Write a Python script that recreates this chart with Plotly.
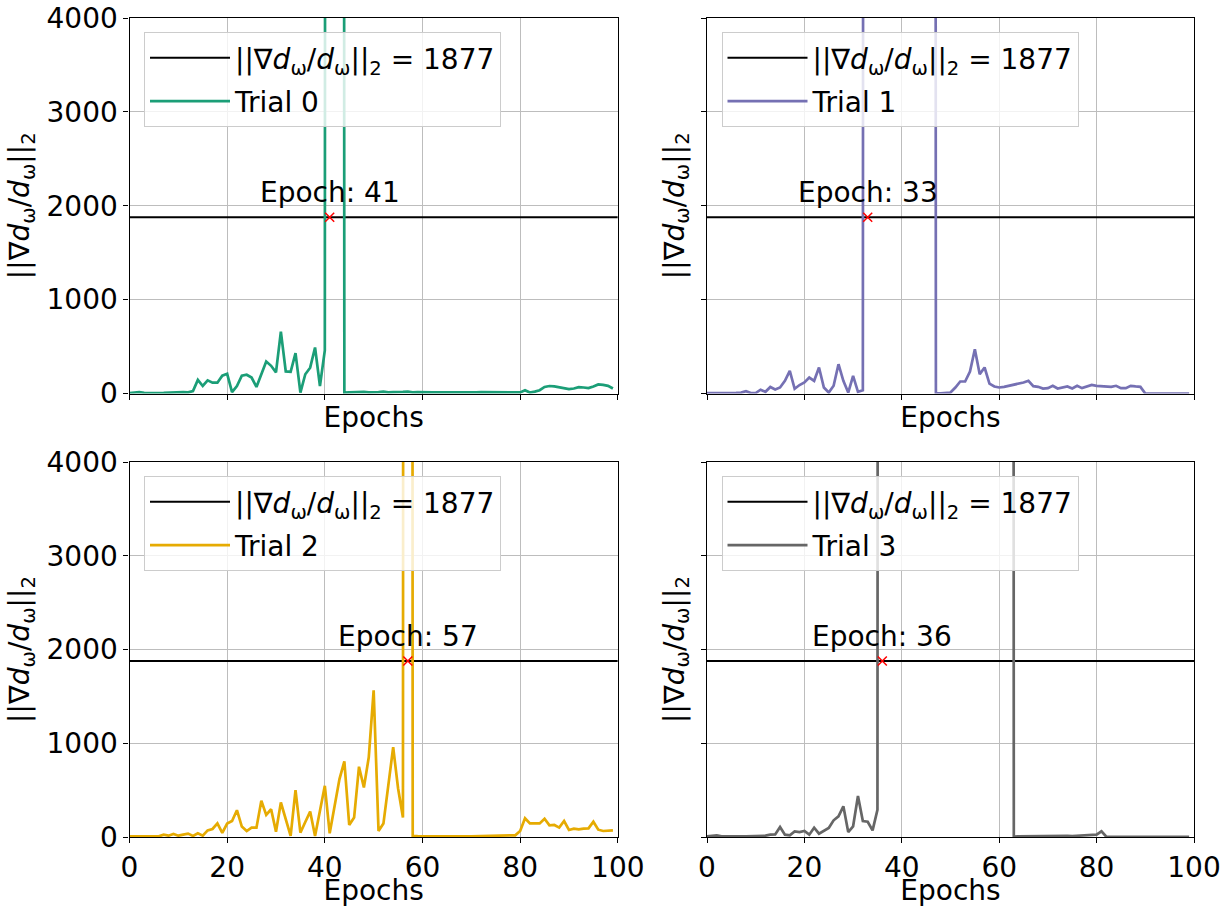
import plotly.graph_objects as go

# ---------------- data ----------------
epochs = list(range(100))
threshold = 1877
trial_names = ["Trial 0", "Trial 1", "Trial 2", "Trial 3"]
trial_colors = ["#1b9e77", "#7570b3", "#e6ab02", "#666666"]
crossing_epochs = [41, 33, 57, 36]

x_ticks = [0, 20, 40, 60, 80, 100]
y_ticks = [0, 1000, 2000, 3000, 4000]

trial0 = [5, 12, 15, 8, 5, 5, 5, 6, 8, 10,
          18, 15, 12, 25, 145, 80, 140, 115, 115, 190,
          210, 15, 80, 190, 200, 170, 70, 200, 340, 295,
          225, 660, 235, 230, 430, 10, 205, 275, 490, 80,
          460, 85000, 120000, 95000, 10, 12, 15, 14, 18, 13,
          11, 14, 20, 12, 15, 13, 17, 20, 12, 15,
          12, 14, 11, 13, 12, 15, 14, 12, 16, 13,
          11, 12, 14, 13, 15, 12, 13, 12, 14, 13,
          12, 35, 10, 20, 35, 70, 80, 75, 65, 57,
          46, 53, 67, 64, 57, 75, 96, 92, 82, 53]

trial1 = [5, 4, 5, 6, 5, 4, 6, 10, 25, 5,
          5, 40, 18, 70, 43, 64, 135, 240, 50, 90,
          117, 170, 135, 277, 64, 10, 82, 312, 135, 10,
          188, 18, 35, 90000, 110000, 95000, 130000, 100000, 85000, 120000,
          105000, 98000, 115000, 90000, 125000, 100000, 95000, 2, 2, 3,
          10, 64, 128, 128, 234, 472, 206, 277, 106, 75,
          64, 71, 82, 100, 110, 117, 135, 78, 71, 53,
          57, 82, 53, 64, 75, 53, 82, 57, 71, 92,
          82, 78, 78, 71, 82, 57, 57, 82, 75, 71,
          0, 0, 0, 0, 0, 0, 0, 0, 0, 0]

trial2 = [8, 7, 6, 6, 7, 6, 7, 25, 14, 32,
          14, 25, 36, 11, 40, 14, 71, 86, 146, 43,
          143, 171, 286, 111, 64, 100, 100, 386, 236, 296,
          57, 368, 190, 11, 500, 46, 160, 271, 11, 280,
          546, 39, 328, 618, 807, 128, 207, 750, 528, 850,
          1564, 64, 143, 550, 957, 520, 207, 110000, 11, 9,
          8, 9, 8, 7, 8, 9, 8, 7, 8, 7,
          8, 9, 8, 9, 10, 9, 10, 11, 12, 18,
          64, 200, 145, 142, 145, 195, 124, 128, 100, 170,
          75, 89, 82, 89, 92, 163, 78, 64, 64, 71]

trial3 = [8, 12, 18, 8, 6, 5, 6, 7, 8, 10,
          12, 10, 14, 25, 28, 107, 25, 18, 60, 53,
          64, 25, 100, 36, 64, 96, 178, 220, 327, 53,
          114, 437, 170, 163, 71, 291, 95000, 120000, 105000, 90000,
          115000, 100000, 130000, 98000, 110000, 92000, 125000, 100000, 105000, 95000,
          118000, 102000, 99000, 112000, 96000, 108000, 121000, 94000, 103000, 117000,
          100000, 97000, 111000, 5, 8, 9, 10, 11, 10, 12,
          11, 10, 11, 12, 11, 10, 12, 13, 14, 15,
          25, 60, 3, 2, 2, 2, 2, 2, 2, 2,
          2, 2, 2, 2, 2, 2, 2, 2, 2, 2]

trials = [trial0, trial1, trial2, trial3]

# ---------------- layout geometry ----------------
W, H = 1232, 907
col_px = [(129.5, 617.8), (707.0, 1194.0)]
row_px = [(18.0, 393.5), (462.0, 837.0)]

FONT = "DejaVu Sans"
FS = 28
norm_label = "||∇<i>d</i><sub>ω</sub>/<i>d</i><sub>ω</sub>||<sub>2</sub>"

fig = go.Figure()

for i in range(4):
    r, c = divmod(i, 2)
    ax = "" if i == 0 else str(i + 1)
    xref, yref = "x" + ax, "y" + ax
    leg = "legend" + ax

    fig.add_trace(go.Scatter(
        x=[x_ticks[0], x_ticks[-1]], y=[threshold, threshold],
        mode="lines", line=dict(color="black", width=2),
        name=norm_label + " = " + str(threshold),
        xaxis=xref, yaxis=yref, legend=leg, legendgroup="thr" + ax,
    ))
    fig.add_trace(go.Scatter(
        x=epochs, y=trials[i], mode="lines",
        line=dict(color=trial_colors[i], width=2.7),
        name=trial_names[i],
        xaxis=xref, yaxis=yref, legend=leg, legendgroup="tr" + ax,
    ))
    fig.add_trace(go.Scatter(
        x=[crossing_epochs[i]], y=[threshold], mode="markers",
        marker=dict(symbol="x-thin", size=9, line=dict(color="red", width=1.5)),
        showlegend=False, xaxis=xref, yaxis=yref,
    ))
    fig.add_annotation(
        x=crossing_epochs[i], y=threshold, xref=xref, yref=yref,
        text="Epoch: " + str(crossing_epochs[i]), showarrow=False,
        xanchor="center", yanchor="bottom", yshift=6,
        font=dict(family=FONT, size=FS, color="black"),
    )

    x0, x1 = col_px[c]
    y0, y1 = row_px[r]
    axis_common = dict(
        showline=True, linecolor="black", linewidth=1.2, mirror=True,
        ticks="outside", ticklen=5, tickwidth=1.2, tickcolor="black",
        showgrid=True, gridcolor="#bdbdbd", gridwidth=1.1,
        zeroline=False, automargin=False,
        tickfont=dict(family=FONT, size=FS, color="black"),
    )
    fig.layout["xaxis" + ax] = dict(
        axis_common, domain=[x0 / W, x1 / W], anchor=yref,
        range=[x_ticks[0], x_ticks[-1]], tickvals=x_ticks,
        showticklabels=(r == 1),
        title=dict(text="Epochs", font=dict(family=FONT, size=FS, color="black"),
                   standoff=8 if r == 0 else 10),
    )
    fig.layout["yaxis" + ax] = dict(
        axis_common, domain=[1 - y1 / H, 1 - y0 / H], anchor=xref,
        range=[y_ticks[0], y_ticks[-1]], tickvals=y_ticks,
        showticklabels=(c == 0),
        title=dict(text=norm_label, font=dict(family=FONT, size=FS, color="black"),
                   standoff=8),
    )
    fig.layout[leg] = dict(
        x=(x0 + 14.5) / W, y=1 - (y0 + 14) / H, xanchor="left", yanchor="top",
        xref="paper", yref="paper",
        bgcolor="rgba(255,255,255,0.8)", bordercolor="#cccccc", borderwidth=1,
        font=dict(family=FONT, size=FS, color="black"),
        tracegroupgap=4, itemwidth=80,
    )

fig.update_layout(
    width=W, height=H, template="none",
    margin=dict(l=0, r=0, t=0, b=0),
    paper_bgcolor="white", plot_bgcolor="white",
    font=dict(family=FONT, size=FS, color="black"),
)

fig.write_html("out.html", config={"displayModeBar": False},
               post_script="document.body.style.margin='0px';")
